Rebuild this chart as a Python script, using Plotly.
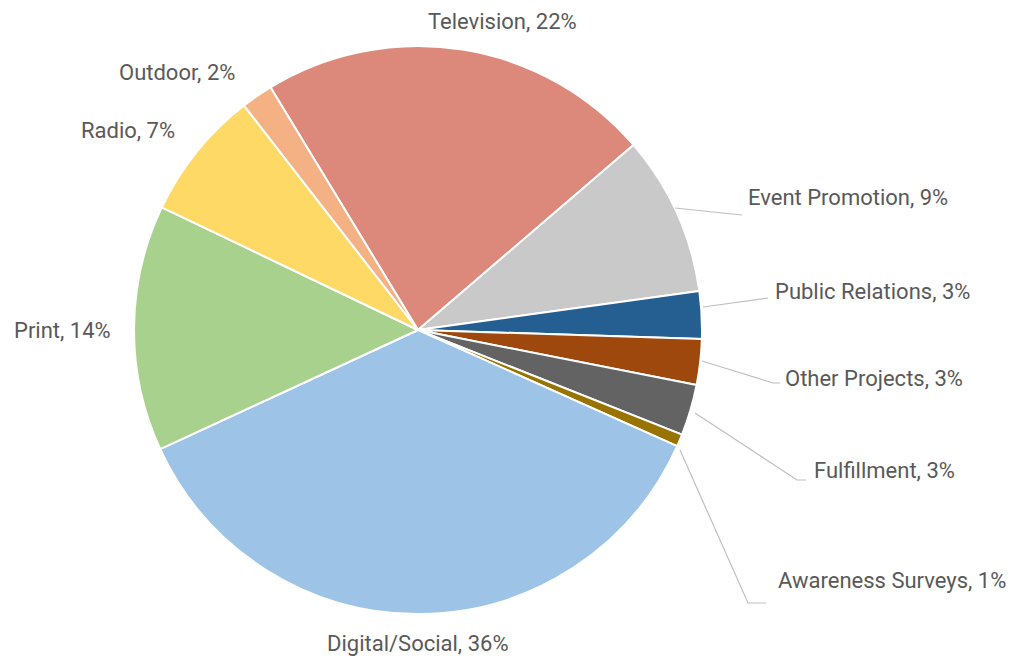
import plotly.graph_objects as go

# categories in clockwise order, starting with Television
labels = ["Television", "Event Promotion", "Public Relations", "Other Projects",
          "Fulfillment", "Awareness Surveys", "Digital/Social", "Print", "Radio", "Outdoor"]
values = [22.4, 9.1, 2.7, 2.6, 2.9, 0.7, 36.4, 14.0, 7.4, 1.8]
shown_pct = [22, 9, 3, 3, 3, 1, 36, 14, 7, 2]
colors = ["#DC897C", "#C9C9C9", "#255E91", "#9E480E", "#636363",
          "#997300", "#9DC3E6", "#A9D18E", "#FFD966", "#F4B183"]

# page body has an 8px margin, so the figure is a bit smaller than the window
OFF = 8
W, H = 1016 - OFF, 661 - OFF

# label centres in window pixels (manual placement, like the original)
label_pos = {
    "Television": (502, 22),
    "Event Promotion": (848, 197),
    "Public Relations": (872, 292),
    "Other Projects": (874, 378),
    "Fulfillment": (884, 470),
    "Awareness Surveys": (892, 580),
    "Digital/Social": (418, 643),
    "Print": (62, 330),
    "Radio": (128, 131),
    "Outdoor": (177, 72),
}

# leader lines (window pixel polylines)
leaders = [
    [(675, 208), (742, 215)],
    [(703, 307), (768, 298)],
    [(702, 361), (773, 383), (780, 383)],
    [(695, 413), (797, 480), (806, 480)],
    [(680, 450), (748, 603), (766, 603)],
]


def px(x, y):
    return (x - OFF) / W, 1 - (y - OFF) / H


cx, cy, r = 418, 330, 284
x0, y1 = px(cx - r, cy - r)
x1, y0 = px(cx + r, cy + r)

fig = go.Figure(go.Pie(
    labels=labels,
    values=values,
    sort=False,
    direction="clockwise",
    rotation=-31.3,
    marker=dict(colors=colors, line=dict(color="white", width=2)),
    textinfo="none",
    hoverinfo="label+percent",
    domain=dict(x=[x0, x1], y=[y0, y1]),
    showlegend=False,
))

for lab, pct in zip(labels, shown_pct):
    x, y = px(*label_pos[lab])
    fig.add_annotation(
        x=x, y=y, xref="paper", yref="paper",
        text=f"{lab}, {pct}%",
        showarrow=False,
        xanchor="center", yanchor="middle",
        font=dict(family="Roboto", size=22, color="#595959"),
    )

for pts in leaders:
    path = "M " + " L ".join(f"{px(x, y)[0]},{px(x, y)[1]}" for x, y in pts)
    fig.add_shape(type="path", path=path, xref="paper", yref="paper",
                  line=dict(color="#BFBFBF", width=1.2))

fig.update_layout(
    width=W, height=H,
    margin=dict(l=0, r=0, t=0, b=0),
    paper_bgcolor="white",
    plot_bgcolor="white",
)

fig.write_html("out.html")
